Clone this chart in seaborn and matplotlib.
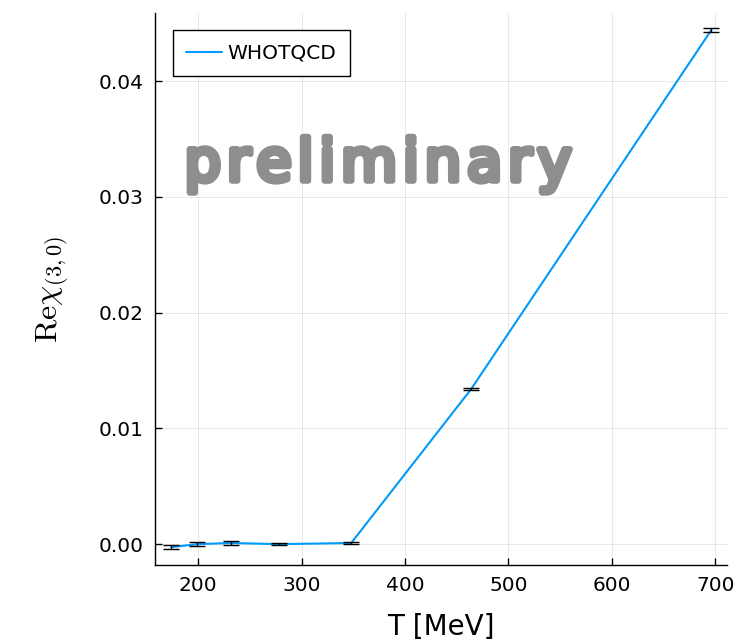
import matplotlib
matplotlib.use("Agg")
import matplotlib.pyplot as plt
import matplotlib.patheffects as pe
import seaborn as sns
import pandas as pd

# Temperatures (MeV) and real part of chi_(3,0) with statistical errors
temperature = [174, 199, 232, 278, 348, 464, 696]
re_chi = [-0.00026, 0.0000, 0.00010, 0.0000, 0.00010, 0.01341, 0.0444]
re_chi_err = [0.00020, 0.00017, 0.00015, 0.00010, 0.00010, 0.00010, 0.00015]

x_ticks = [200, 300, 400, 500, 600, 700]
y_ticks = [0.00, 0.01, 0.02, 0.03, 0.04]
y_tick_labels = ["0.00", "0.01", "0.02", "0.03", "0.04"]

series_name = "WHOTQCD"
line_color = "#009AFA"
watermark = "preliminary"

df = pd.DataFrame({"T": temperature, "chi": re_chi, "err": re_chi_err,
                   "series": series_name})

sns.set_style("white")
plt.rcParams["font.family"] = ["DejaVu Sans"]
plt.rcParams["mathtext.fontset"] = "cm"

fig = plt.figure(figsize=(7.48, 6.42), dpi=100)
ax = fig.add_axes([155 / 748, 1 - 565 / 642, (727.5 - 155) / 748, (565 - 12.8) / 642])

sns.lineplot(data=df, x="T", y="chi", hue="series", palette=[line_color],
             linewidth=1.5, ax=ax, sort=False, estimator=None)
ax.errorbar(df["T"], df["chi"], yerr=df["err"], fmt="none", ecolor="black",
            elinewidth=1.0, capsize=6, capthick=1.0, zorder=3)

ax.set_xlim(158.3, 711.7)
ax.set_ylim(-0.0018, 0.0459)
ax.set_xticks(x_ticks)
ax.set_xticklabels([str(t) for t in x_ticks])
ax.set_yticks(y_ticks)
ax.set_yticklabels(y_tick_labels)

ax.grid(True, color="black", alpha=0.1, linewidth=0.6)
for side in ("top", "right"):
    ax.spines[side].set_visible(False)
for side in ("left", "bottom"):
    ax.spines[side].set_color("black")
    ax.spines[side].set_linewidth(1.0)
ax.tick_params(axis="both", direction="in", length=5, width=1.0,
               labelsize=14.5, color="black", labelcolor="black",
               bottom=True, left=True, pad=8)

ax.set_xlabel("T [MeV]", fontsize=20, labelpad=13, color="black")
ax.set_ylabel(r"$\mathrm{Re}\chi_{(3,0)}$", fontsize=23, labelpad=20,
              color="black")

leg = ax.legend(loc="upper left", bbox_to_anchor=(0.031, 0.969),
                fontsize=14.5, frameon=True, fancybox=False,
                edgecolor="black", framealpha=1.0, handlelength=1.75,
                handletextpad=0.3, borderpad=0.68, borderaxespad=0.0)
leg.get_frame().set_linewidth(1.0)
for txt in leg.get_texts():
    txt.set_color("black")

# Loosely tracked, rounded grey watermark
spaced = "\u200a".join(watermark)
ax.text(373.8, 0.0314, spaced, ha="center", va="baseline",
        fontsize=41.5, color="#8e8e8e", fontweight="normal", zorder=4,
        path_effects=[pe.Stroke(linewidth=4.5, foreground="#8e8e8e",
                                joinstyle="round", capstyle="round"),
                      pe.Normal()])

fig.savefig("out.png", dpi=100, facecolor="white")
